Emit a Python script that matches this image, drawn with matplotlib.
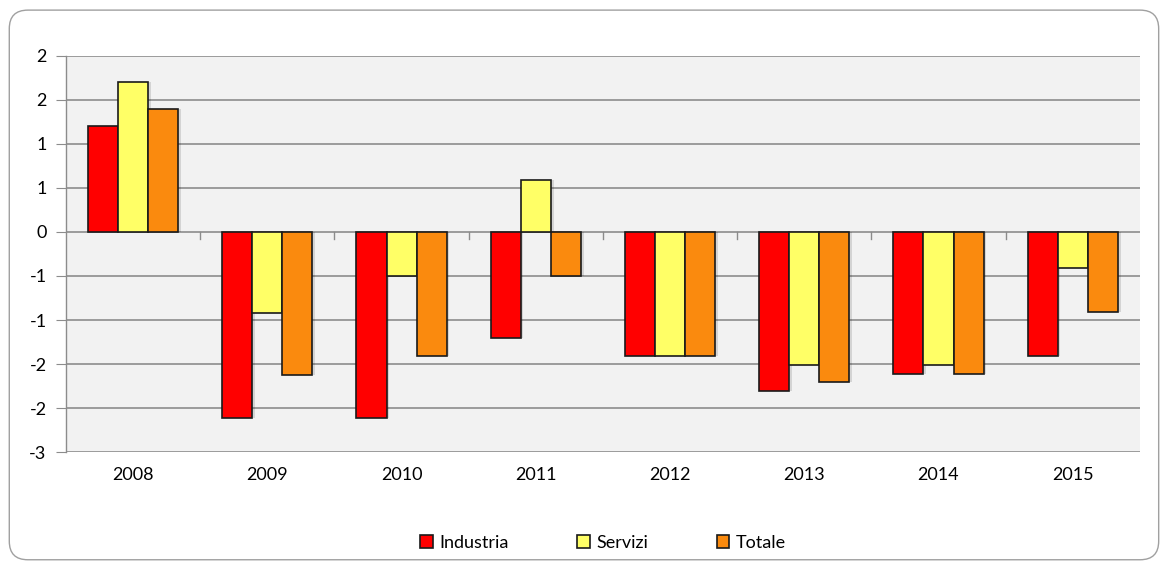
import numpy as np
import matplotlib.pyplot as plt
from matplotlib.patches import FancyBboxPatch
from matplotlib.ticker import FuncFormatter, MultipleLocator

plt.rcParams['font.family'] = ['Lato', 'DejaVu Sans']

years = ['2008', '2009', '2010', '2011', '2012', '2013', '2014', '2015']
industria = [1.20, -2.11, -2.11, -1.20, -1.41, -1.81, -1.61, -1.41]
servizi = [1.70, -0.92, -0.50, 0.59, -1.41, -1.51, -1.51, -0.41]
totale = [1.40, -1.62, -1.41, -0.50, -1.41, -1.70, -1.61, -0.91]

series = [('Industria', industria, '#FF0000'),
          ('Servizi', servizi, '#FFFF66'),
          ('Totale', totale, '#FA8A0E')]

fig = plt.figure(figsize=(11.61, 5.62), dpi=100)

# rounded outer frame (behind the axes)
frame = FancyBboxPatch((0.008, 0.004), 0.990, 0.978, transform=fig.transFigure,
                       boxstyle='round,pad=0,rounding_size=0.016',
                       mutation_aspect=11.61 / 5.62,
                       facecolor='white', edgecolor='#A0A0A0', linewidth=1.0,
                       zorder=-10)
fig.patches.append(frame)

ax = fig.add_axes([0.0568, 0.1957, 0.9250, 0.7047])
ax.set_zorder(1)
ax.set_facecolor('#F2F2F2')

x = np.arange(len(years))
w = 0.224
for i, (name, vals, col) in enumerate(series):
    pos = x + (i - 1) * w
    # soft drop shadow
    ax.bar(pos + 0.02, vals, w, bottom=0, color='#000000', alpha=0.12,
           linewidth=0, zorder=2)
    ax.bar(pos, vals, w, color=col, edgecolor='#1A1A1A', linewidth=1.2,
           label=name, zorder=3)

ax.set_ylim(-2.5, 2.0)
ax.set_xlim(-0.5, len(years) - 0.5)
ax.yaxis.set_major_locator(MultipleLocator(0.5))


def excel_round(v, pos):
    r = np.sign(v) * np.floor(abs(v) + 0.5)
    return '%d' % r


ax.yaxis.set_major_formatter(FuncFormatter(excel_round))
ax.grid(axis='y', color='#8C8C8C', linewidth=1.2, zorder=1)
ax.set_axisbelow(True)

for s in ['top', 'right', 'bottom']:
    ax.spines[s].set_visible(False)
ax.spines['left'].set_color('#8C8C8C')
ax.spines['left'].set_linewidth(1.0)

ax.set_xticks(x)
ax.set_xticklabels(years)
ax.tick_params(axis='x', length=0, pad=11, labelsize=13)
ax.tick_params(axis='y', length=7, color='#8C8C8C', labelsize=13, pad=7)

# category boundary ticks on the zero axis
for b in np.arange(0.5, len(years) - 0.5, 1.0):
    ax.plot([b, b], [0, -0.08], color='#8C8C8C', linewidth=1.0, zorder=1)

ax.legend(loc='center', bbox_to_anchor=(0.5, -0.23), ncol=3, frameon=False,
          fontsize=13, handlelength=0.7, handleheight=0.7, columnspacing=3.8,
          handletextpad=0.35)

fig.savefig('out.png', dpi=100)
